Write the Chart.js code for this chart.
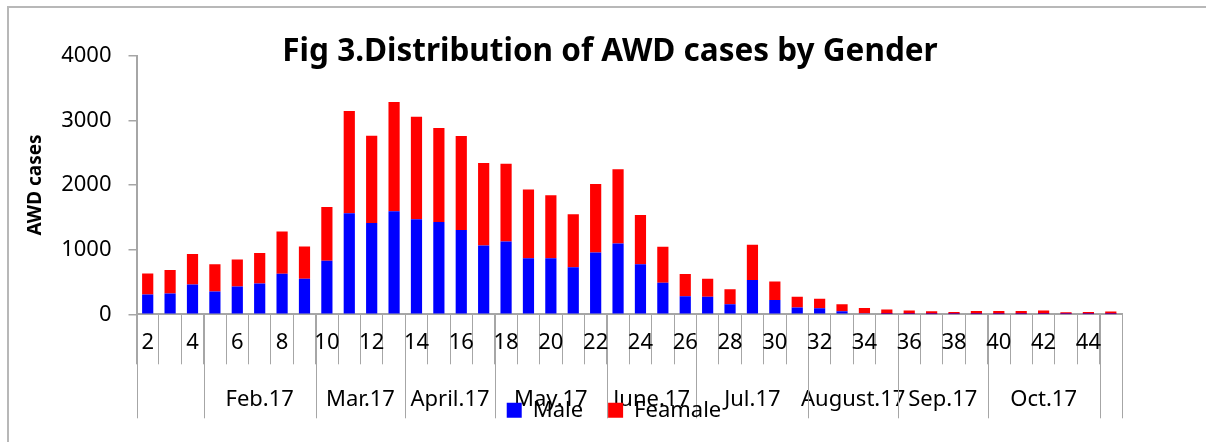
<!DOCTYPE html>
<html>
<head>
<meta charset="utf-8">
<title>Fig 3.Distribution of AWD cases by Gender</title>
<script src="https://cdn.jsdelivr.net/npm/chart.js@4/dist/chart.umd.min.js"></script>
<style>
  html, body { margin: 0; padding: 0; background: #fff; }
  .frame { position: relative; width: 1206px; height: 442px; overflow: hidden; }
  .edge {
    position: absolute; left: 7px; top: 6px; width: 1300px; height: 500px;
    border-top: 2px solid #b8b8b8; border-left: 2px solid #b8b8b8;
  }
  canvas { position: absolute; left: 0; top: 0; }
</style>
</head>
<body>
<div class="frame">
  <div class="edge"></div>
  <canvas id="awdChart" width="1206" height="442"></canvas>
</div>
<script>
// epi weeks 2..45
const weeks = [
  "2", "3", "4", "5", "6", "7", "8", "9", "10", "11", "12", "13", "14", "15", "16",
  "17", "18", "19", "20", "21", "22", "23", "24", "25", "26", "27", "28", "29", "30",
  "31", "32", "33", "34", "35", "36", "37", "38", "39", "40", "41", "42", "43", "44", "45",
];
const maleCases = [
  306, 322, 462, 353, 431, 477, 628, 550, 830, 1562, 1412, 1593, 1469, 1427, 1303,
  1064, 1126, 867, 866, 727, 955, 1095, 773, 488, 280, 270, 156, 529, 223,
  106, 93, 47, 16, 5, 3, 2, 2, 2, 2, 2, 3, 1, 1, 2,
];
const femaleCases = [
  327, 363, 472, 420, 415, 473, 654, 498, 831, 1583, 1349, 1692, 1588, 1453, 1453,
  1277, 1204, 1064, 976, 820, 1059, 1147, 763, 555, 343, 280, 233, 545, 286,
  164, 146, 109, 83, 68, 54, 45, 34, 50, 50, 50, 54, 30, 35, 40,
];
const yTicks = [0, 1000, 2000, 3000, 4000];

// second row of the x axis: month name and how many weeks it covers
const months = ["", "Feb.17", "Mar.17", "April.17", "May.17", "June.17", "Jul.17", "August.17", "Sep.17", "Oct.17", ""];
const monthWeeks = [3, 5, 4, 4, 5, 4, 5, 4, 4, 5, 1];

const AXIS = "#a6a6a6";
const FONT = "'Noto Sans', sans-serif";

Chart.defaults.font.family = FONT;
Chart.defaults.color = "#000";

// month labels and the long separators under the week numbers
const monthRow = {
  id: "monthRow",
  beforeDraw(chart) {
    const x = chart.scales.x;
    const ctx = chart.ctx;
    ctx.save();
    ctx.strokeStyle = AXIS;
    ctx.lineWidth = 1;
    ctx.fillStyle = "#000";
    ctx.font = `22px ${FONT}`;
    ctx.textAlign = "center";
    ctx.textBaseline = "middle";

    let start = 0;
    const edges = [0];
    months.forEach((name, i) => {
      const end = start + monthWeeks[i];
      const x0 = x.getPixelForValue(start - 0.5);
      const x1 = x.getPixelForValue(end - 0.5);
      if (name) ctx.fillText(name, (x0 + x1) / 2, x.top + 85);
      edges.push(end);
      start = end;
    });

    ctx.beginPath();
    for (const e of edges) {
      const px = Math.round(x.getPixelForValue(e - 0.5)) + 0.5;
      ctx.moveTo(px, x.top);
      ctx.lineTo(px, x.top + 104);
    }
    ctx.stroke();
    ctx.restore();
  },
};

// title and legend are not centred on the plot in the original
const boxCentre = {
  id: "boxCentre",
  afterLayout(chart, args, opts) {
    for (const [box, cx] of [[chart.titleBlock, opts.title], [chart.legend, opts.legend]]) {
      if (!box) continue;
      const half = (box.right - box.left) / 2;
      box.left = cx - half;
      box.right = cx + half;
    }
  },
};

new Chart(document.getElementById("awdChart"), {
  type: "bar",
  data: {
    labels: weeks,
    datasets: [
      { label: "Male", data: maleCases, backgroundColor: "#0000ff", borderWidth: 0 },
      { label: "Feamale", data: femaleCases, backgroundColor: "#ff0000", borderWidth: 0 },
    ],
  },
  options: {
    responsive: false,
    animation: false,
    layout: { padding: { left: 0, right: 84, top: 0, bottom: 10.7 } },
    datasets: { bar: { barPercentage: 0.5, categoryPercentage: 1 } },
    plugins: {
      title: {
        display: true,
        text: "Fig 3.Distribution of AWD cases by Gender",
        color: "#000",
        font: { size: 31.5, weight: "bold" },
        padding: { top: 33, bottom: -15.1 },
      },
      legend: {
        position: "bottom",
        labels: { boxWidth: 15, boxHeight: 15, padding: 25, color: "#000", font: { size: 22 } },
      },
      tooltip: { enabled: false },
      boxCentre: { title: 610, legend: 614 },
    },
    scales: {
      x: {
        stacked: true,
        afterFit: (scale) => { scale.height = 60; },
        border: { color: AXIS, width: 2 },
        grid: { drawOnChartArea: false, tickLength: 50, color: AXIS, lineWidth: 1, offset: true },
        ticks: {
          autoSkip: false,
          maxRotation: 0,
          padding: -35,
          color: "#000",
          font: { size: 22 },
          callback: function (value, index) {
            return index % 2 === 0 ? this.getLabelForValue(value) : "";
          },
        },
      },
      y: {
        stacked: true,
        min: 0,
        max: 4000,
        afterBuildTicks: (scale) => { scale.ticks = yTicks.map((v) => ({ value: v })); },
        afterFit: (scale) => { scale.width = 136.5; },
        border: { color: AXIS, width: 2 },
        grid: { drawOnChartArea: false, tickLength: 8, color: AXIS, lineWidth: 1.5 },
        ticks: { padding: 17, color: "#000", font: { size: 22 }, callback: (v) => String(v) },
        title: {
          display: true,
          text: "AWD cases",
          color: "#000",
          font: { size: 19, weight: "bold" },
          padding: { top: 24.3, bottom: 0 },
        },
      },
    },
  },
  plugins: [monthRow, boxCentre],
});
</script>
</body>
</html>
